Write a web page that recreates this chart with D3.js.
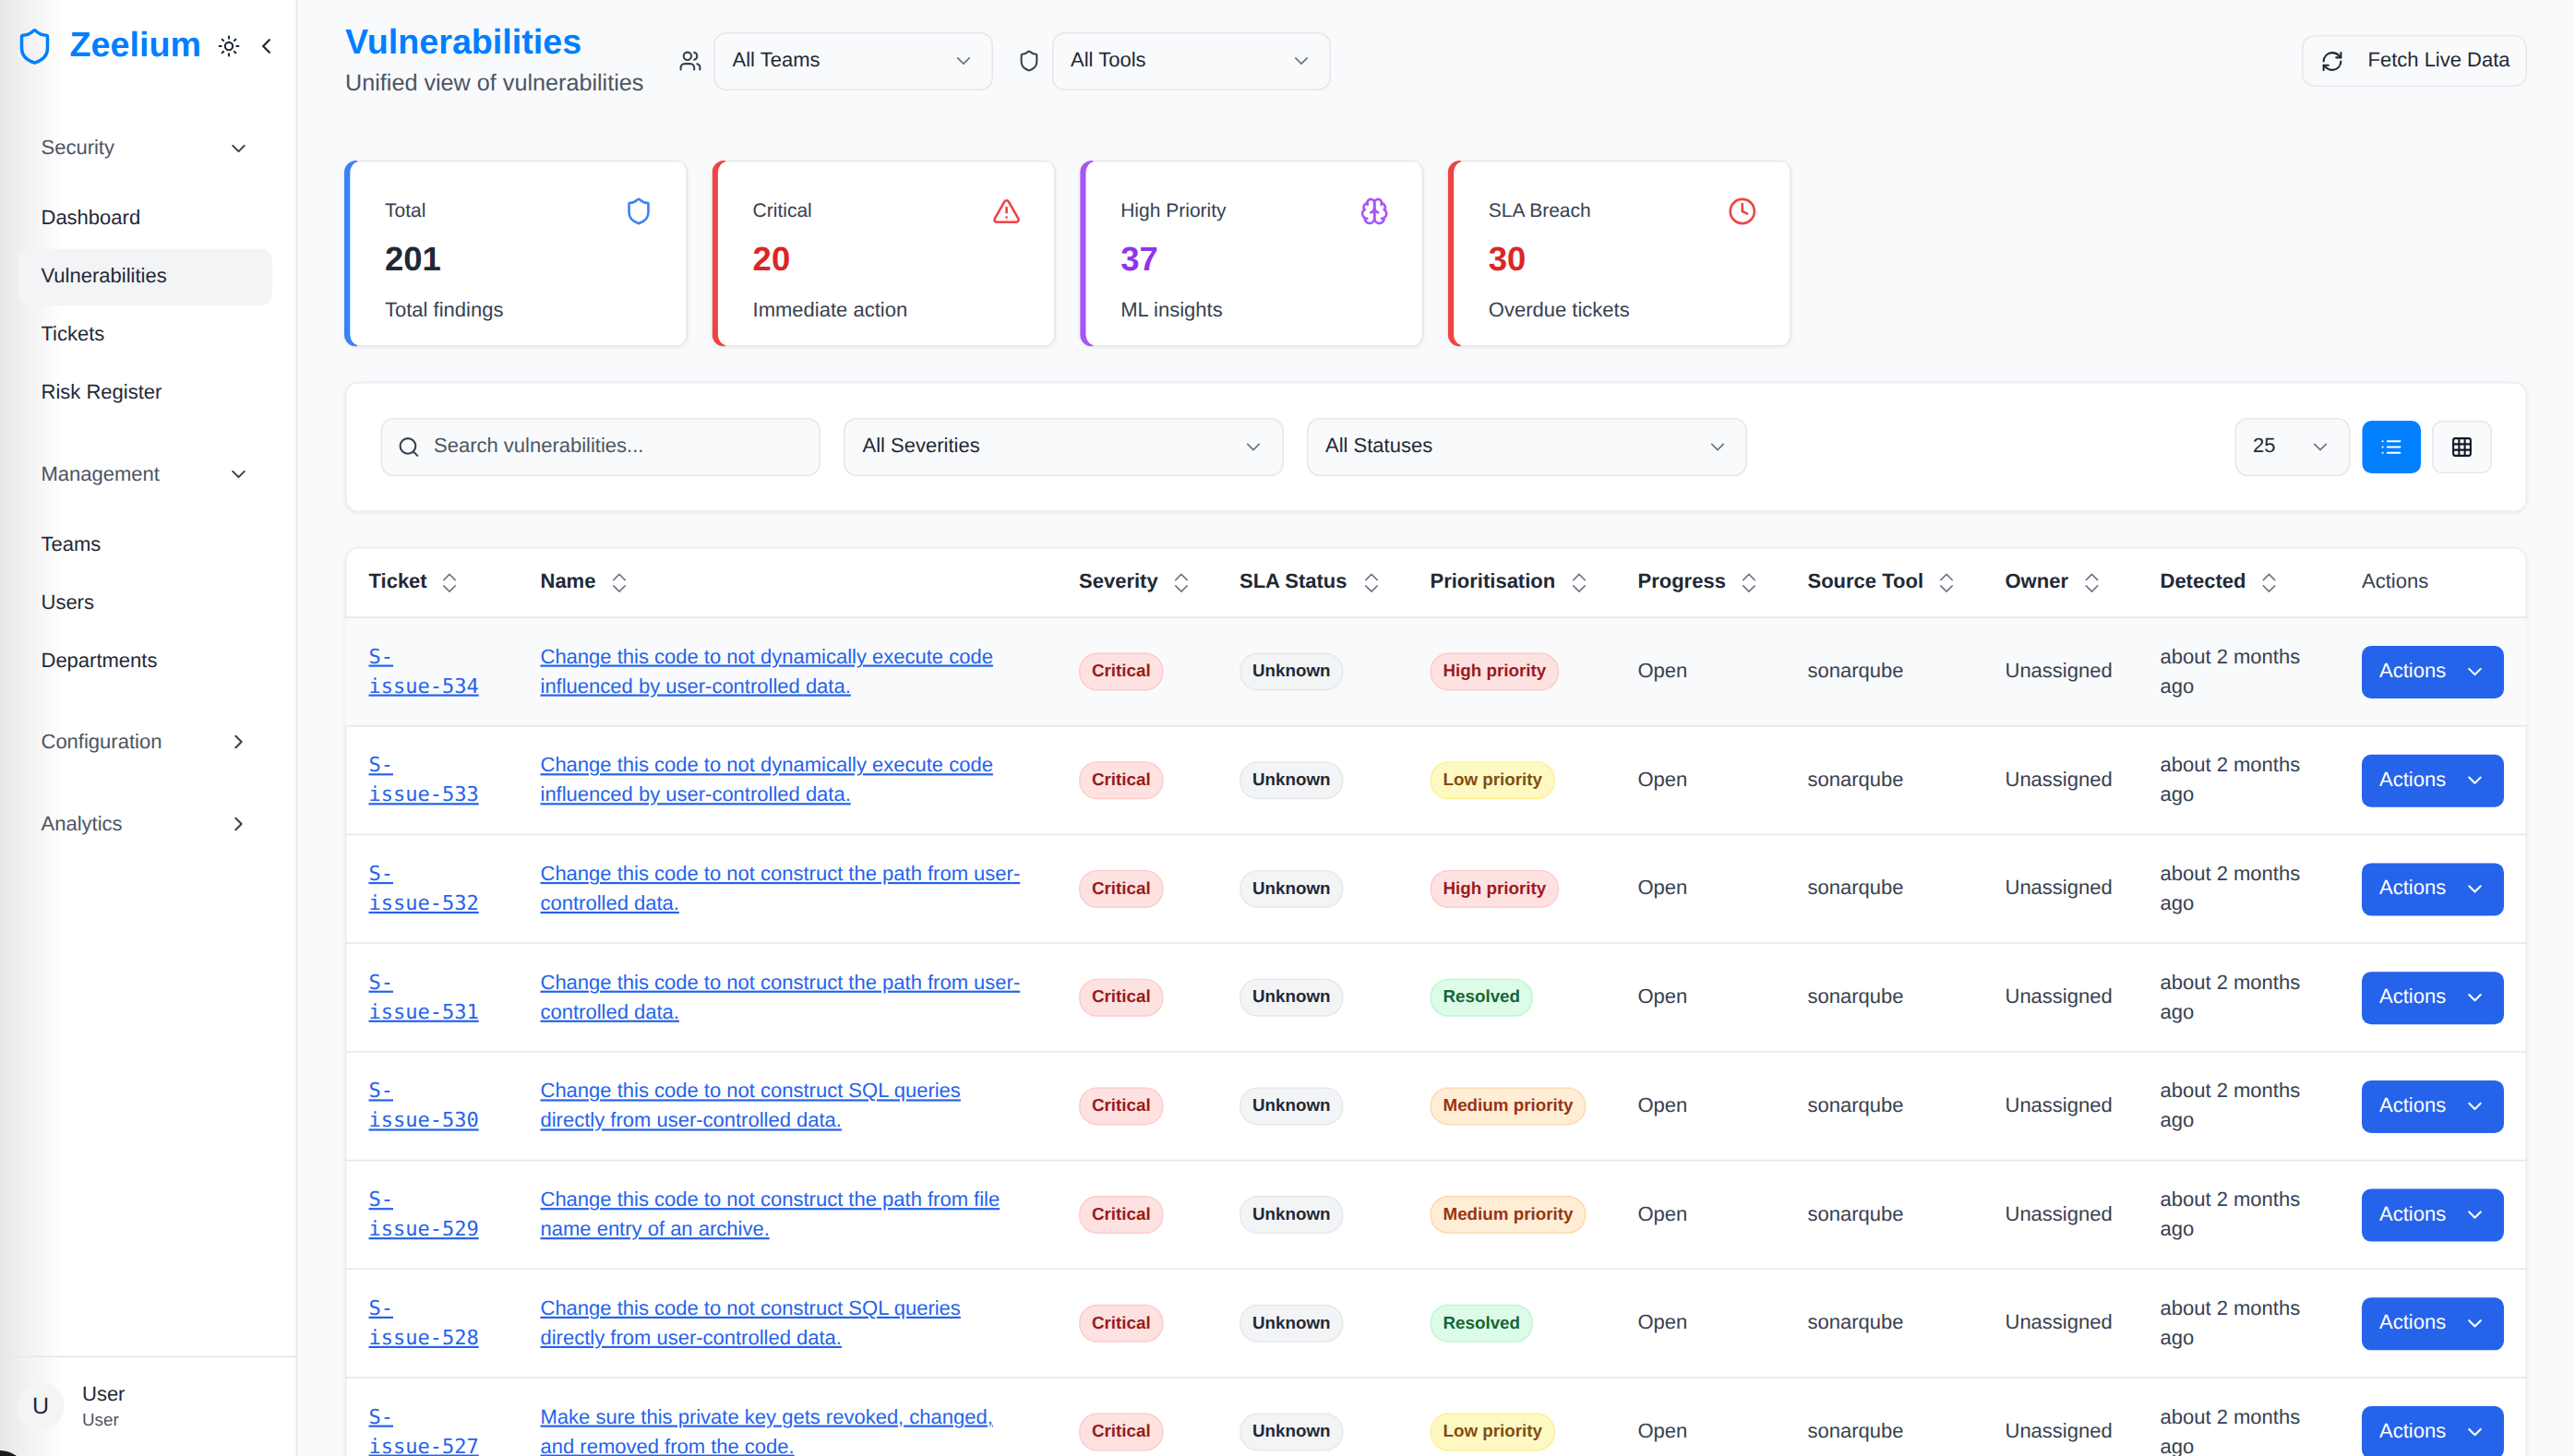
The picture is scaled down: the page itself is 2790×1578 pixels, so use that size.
<!DOCTYPE html>
<html><head><meta charset="utf-8"><title>Vulnerabilities</title>
<script src="https://cdn.jsdelivr.net/npm/d3@7"></script>
<style>
html,body{margin:0;padding:0;background:#f9fafb;overflow:hidden}
svg{display:block;font-family:"Liberation Sans",Arial,sans-serif;text-rendering:geometricPrecision}
</style></head><body><svg id="c" width="2790" height="1578"></svg>
<script>
// ---------- data ----------
const navItems = ["Security","Dashboard","Vulnerabilities","Tickets","Risk Register","Management","Teams","Users","Departments","Configuration","Analytics"];
const statLabels = ["Total","Critical","High Priority","SLA Breach"];
const statValues = ["201","20","37","30"];
const statNotes = ["Total findings","Immediate action","ML insights","Overdue tickets"];
const columns = ["Ticket","Name","Severity","SLA Status","Prioritisation","Progress","Source Tool","Owner","Detected","Actions"];
const tickets = ["S-issue-534","S-issue-533","S-issue-532","S-issue-531","S-issue-530","S-issue-529","S-issue-528","S-issue-527"];
const nameFirst = ["Change this code to not dynamically execute code","Change this code to not dynamically execute code","Change this code to not construct the path from user-","Change this code to not construct the path from user-","Change this code to not construct SQL queries","Change this code to not construct the path from file","Change this code to not construct SQL queries","Make sure this private key gets revoked, changed,"];
const nameSecond = ["influenced by user-controlled data.","influenced by user-controlled data.","controlled data.","controlled data.","directly from user-controlled data.","name entry of an archive.","directly from user-controlled data.","and removed from the code."];
const severity = ["Critical","Critical","Critical","Critical","Critical","Critical","Critical","Critical"];
const slaStatus = ["Unknown","Unknown","Unknown","Unknown","Unknown","Unknown","Unknown","Unknown"];
const prioritisation = ["High priority","Low priority","High priority","Resolved","Medium priority","Medium priority","Resolved","Low priority"];
const progress = ["Open","Open","Open","Open","Open","Open","Open","Open"];
const sourceTool = ["sonarqube","sonarqube","sonarqube","sonarqube","sonarqube","sonarqube","sonarqube","sonarqube"];
const owner = ["Unassigned","Unassigned","Unassigned","Unassigned","Unassigned","Unassigned","Unassigned","Unassigned"];
const detectedFirst = ["about 2 months","about 2 months","about 2 months","about 2 months","about 2 months","about 2 months","about 2 months","about 2 months"];
const detectedSecond = ["ago","ago","ago","ago","ago","ago","ago","ago"];

// ---------- scales ----------
const rowY = d3.scaleLinear().domain([0,8]).range([669,669+8*117.72]);
const colX = d3.scaleOrdinal().domain(columns).range([399.5,585.5,1169,1343,1549.5,1774.5,1958.5,2172.5,2340.5,2559]);
const sortX = d3.scaleOrdinal().domain(columns).range([487,671,1280,1486,1711,1895,2109,2266.5,2458.5,0]);
const statX = d3.scaleBand().domain(statLabels).range([373,1941]).paddingInner(26.4/398.4).paddingOuter(0);
const navY = d3.scaleOrdinal().domain(navItems).range([167,243,306,369,432,521,597,660,723,811,900]);

const BLUE="#007fff", LINK="#2563eb", LINE="#e5e7eb";
const circ=(x,y,r)=>`M${x-r} ${y}a${r} ${r} 0 1 0 ${2*r} 0a${r} ${r} 0 1 0 ${-2*r} 0`;
const ICONS={
 shield:["M20 13c0 5-3.5 7.5-7.66 8.95a1 1 0 0 1-.67-.01C7.5 20.5 4 18 4 13V6a1 1 0 0 1 1-1c2 0 4.5-1.2 6.24-2.72a1.17 1.17 0 0 1 1.52 0C14.51 3.81 17 5 19 5a1 1 0 0 1 1 1z"],
 users:["M16 21v-2a4 4 0 0 0-4-4H6a4 4 0 0 0-4 4v2",circ(9,7,4),"M22 21v-2a4 4 0 0 0-3-3.87","M16 3.13a4 4 0 0 1 0 7.75"],
 sun:[circ(12,12,4),"M12 2v2","M12 20v2","m4.93 4.93 1.41 1.41","m17.66 17.66 1.41 1.41","M2 12h2","M20 12h2","m6.34 17.66-1.41 1.41","m19.07 4.93-1.41 1.41"],
 alert:["m21.73 18-8-14a2 2 0 0 0-3.48 0l-8 14A2 2 0 0 0 4 21h16a2 2 0 0 0 1.73-3","M12 9v4","M12 17h.01"],
 clock:[circ(12,12,10),"M12 6v6l4 2"],
 brain:["M12 5a3 3 0 1 0-5.997.125 4 4 0 0 0-2.526 5.77 4 4 0 0 0 .556 6.588A4 4 0 1 0 12 18Z","M12 5a3 3 0 1 1 5.997.125 4 4 0 0 1 2.526 5.77 4 4 0 0 1-.556 6.588A4 4 0 1 1 12 18Z","M15 13a4.5 4.5 0 0 1-3-4 4.5 4.5 0 0 1-3 4","M17.599 6.5a3 3 0 0 0 .399-1.375","M6.003 5.125A3 3 0 0 0 6.401 6.5","M3.477 10.896a4 4 0 0 1 .585-.396","M19.938 10.5a4 4 0 0 1 .585.396","M6 18a4 4 0 0 1-1.967-.516","M19.967 17.484A4 4 0 0 1 18 18"],
 search:[circ(11,11,8),"m21 21-4.3-4.3"],
 down:["m6 9 6 6 6-6"], up:["m18 15-6-6-6 6"], left:["m15 18-6-6 6-6"], right:["m9 18 6-6-6-6"],
 refresh:["M3 12a9 9 0 0 1 9-9 9.75 9.75 0 0 1 6.74 2.74L21 8","M21 3v5h-5","M21 12a9 9 0 0 1-9 9 9.75 9.75 0 0 1-6.74-2.74L3 16","M8 16H3v5"],
 list:["M3 12h.01","M3 18h.01","M3 6h.01","M8 12h13","M8 18h13","M8 6h13"],
 grid:["M5 3h14a2 2 0 0 1 2 2v14a2 2 0 0 1-2 2H5a2 2 0 0 1-2-2V5a2 2 0 0 1 2-2z","M3 9h18","M3 15h18","M9 3v18","M15 3v18"]
};
const svg=d3.select("#c");
const defs=svg.append("defs");
const g1=defs.append("linearGradient").attr("id","edge");
g1.append("stop").attr("offset","0").attr("stop-color","#e6e6e6");
g1.append("stop").attr("offset","0.35").attr("stop-color","#f0f0f0");
g1.append("stop").attr("offset","1").attr("stop-color","#ffffff");

function icon(name,cx,cy,size,color,sw=2){
  const k=size/24;
  const g=svg.append("g").attr("transform",`translate(${cx-size/2},${cy-size/2}) scale(${k})`)
    .attr("fill","none").attr("stroke",color).attr("stroke-width",sw)
    .attr("stroke-linecap","round").attr("stroke-linejoin","round");
  g.selectAll("path").data(ICONS[name]).join("path").attr("d",d=>d);
}
function text(t,x,y,size,color,o={}){
  const s=svg.append("text").attr("x",x).attr("y",y).attr("font-size",size).attr("fill",color).text(t);
  if(o.w) s.attr("font-weight",o.w);
  if(o.a) s.attr("text-anchor",o.a);
  if(o.f) s.attr("font-family",o.f);
  if(o.u) s.attr("text-decoration","underline");
  return s;
}
function box(x,y,w,h,r,fill,stroke,shadow){
  const s=svg.append("rect").attr("x",x+.8).attr("y",y+.8).attr("width",w-1.6).attr("height",h-1.6)
    .attr("rx",r).attr("fill",fill);
  if(stroke) s.attr("stroke",stroke).attr("stroke-width",1.6);
  if(shadow) s.style("filter","drop-shadow(0 1.6px 2px rgba(0,0,0,.07))");
  return s;
}

// ---------- sidebar ----------
svg.append("rect").attr("width",322).attr("height",1578).attr("fill","#fff");
svg.append("rect").attr("width",70).attr("height",1578).attr("fill","url(#edge)");
svg.append("rect").attr("x",320.6).attr("width",1.6).attr("height",1578).attr("fill",LINE);
svg.append("path").attr("d","M0 1572Q10 1572 18 1578H0Z").attr("fill","#1a1a1a");
icon("shield",37.5,50.5,42,BLUE,2);
text("Zeelium",75.5,61,37.7,BLUE,{w:700});
icon("sun",248,50,25,"#1f2937",2);
icon("left",288.5,50,27,"#1f2937",2);
box(19,269,277,63,13,"#f3f4f6");
const groupNav=new Set(["Security","Management","Configuration","Analytics"]);
navItems.forEach(n=>{
  text(n,44.5,navY(n),22,groupNav.has(n)?"#4b5563":"#1f2937");
});
icon("down",258.5,161,25,"#374151",2);
icon("down",258.5,514,25,"#374151",2);
icon("right",258.5,804,25,"#374151",2);
icon("right",258.5,893,25,"#374151",2);
svg.append("rect").attr("y",1469.5).attr("width",321).attr("height",1.6).attr("fill",LINE);
svg.append("circle").attr("cx",44).attr("cy",1524).attr("r",25.5).attr("fill","#f3f4f6");
text("U",44,1532,25,"#1f2937",{a:"middle"});
text("User",89,1518,22,"#1f2937");
text("User",89,1545,18.8,"#4b5563");

// ---------- header ----------
text("Vulnerabilities",374,57.5,37.7,BLUE,{w:700});
text("Unified view of vulnerabilities",374,98,25.2,"#4b5563");
icon("users",748,66,25,"#374151",2);
box(773,35,303,63,13,"#f9fafb",LINE);
text("All Teams",793.5,72,22,"#1f2937");
icon("down",1044,66,25,"#6b7280",1.6);
icon("shield",1115,66,25,"#374151",2);
box(1140,35,302,63,13,"#f9fafb",LINE);
text("All Tools",1160,72,22,"#1f2937");
icon("down",1410,66,25,"#6b7280",1.6);
box(2494,38,244,56,13,"#f9fafb",LINE);
icon("refresh",2527,66.5,25,"#1f2937",2);
text("Fetch Live Data",2565.5,72,22,"#1f2937");

// ---------- stat cards ----------
const statColor=d3.scaleOrdinal().domain(statLabels).range(["#3b82f6","#ef4444","#a855f7","#ef4444"]);
const statText=d3.scaleOrdinal().domain(statLabels).range(["#1f2937","#dc2626","#9333ea","#dc2626"]);
const statIcon=d3.scaleOrdinal().domain(statLabels).range(["shield","alert","brain","clock"]);
const CT=174,CH=201.5;
statLabels.forEach((l,i)=>{
  const x=statX(l),w=statX.bandwidth();
  svg.append("rect").attr("x",x).attr("y",CT).attr("width",w).attr("height",CH).attr("rx",13)
    .attr("fill",LINE).style("filter","drop-shadow(0 1.6px 2px rgba(0,0,0,.08))");
  const cid="cl"+i;
  defs.append("clipPath").attr("id",cid).append("rect").attr("x",x).attr("y",CT).attr("width",14).attr("height",CH);
  svg.append("rect").attr("x",x).attr("y",CT).attr("width",w).attr("height",CH).attr("rx",13)
    .attr("fill",statColor(l)).attr("clip-path",`url(#${cid})`);
  svg.append("rect").attr("x",x+6.3).attr("y",CT+1.6).attr("width",w-6.3-1.6).attr("height",CH-3.2)
    .attr("rx",9).attr("ry",11.5).attr("fill","#fff");
  text(l,x+44,234.5,21,"#374151");
  text(statValues[i],x+44,293,36.5,statText(l),{w:700});
  text(statNotes[i],x+44,342.5,22,"#374151");
  icon(statIcon(l),x+319,229,31.4,statColor(l),2);
});

// ---------- filter bar ----------
box(374,414,2364,141,13,"#fff","#eceef1",true);
box(412.5,453,476.5,63,13,"#f9fafb",LINE);
icon("search",443,484.5,25,"#374151",2);
text("Search vulnerabilities...",470,490,22,"#4b5563");
box(914,453,477,63,13,"#f9fafb",LINE);
text("All Severities",934.5,490,22,"#1f2937");
icon("down",1358,484.5,25,"#6b7280",1.6);
box(1416,453,477,63,13,"#f9fafb",LINE);
text("All Statuses",1436,490,22,"#1f2937");
icon("down",1861,484.5,25,"#6b7280",1.6);
box(2421.5,453,125,63,13,"#f9fafb",LINE);
text("25",2441,490,22,"#1f2937");
icon("down",2514,484.5,25,"#6b7280",1.6);
svg.append("rect").attr("x",2559.5).attr("y",456).attr("width",63.5).attr("height",57).attr("rx",10).attr("fill","#0080ff");
icon("list",2591,484.5,25,"#fff",2);
box(2635,456,65,57,10,"#f9fafb",LINE);
icon("grid",2667.5,484.5,25,"#111827",2);

// ---------- table ----------
const tableClip=defs.append("clipPath").attr("id","tc");
tableClip.append("rect").attr("x",374).attr("y",593).attr("width",2364).attr("height",1200).attr("rx",13);
box(374,593,2364,1200,13,"#fff","#eceef1",true);
const table=svg.append("g").attr("clip-path","url(#tc)");
table.append("rect").attr("x",374).attr("y",rowY(0)).attr("width",2364).attr("height",rowY(1)-rowY(0)).attr("fill","#f9fafb");
table.selectAll("rect.sep").data(d3.range(0,9)).join("rect").attr("class","sep")
  .attr("x",374).attr("y",d=>rowY(d)-.8).attr("width",2364).attr("height",1.6).attr("fill",LINE);

columns.forEach(col=>{
  if(col==="Actions"){ text(col,colX(col),636.5,22,"#374151"); return; }
  text(col,colX(col),636.5,22,"#1f2937",{w:700});
  icon("up",sortX(col),625.5,25,"#6b7280",1.4);
  icon("down",sortX(col),638,25,"#6b7280",1.4);
});

const badgeStyle=d3.scaleOrdinal()
  .domain(["Critical","High priority","Low priority","Medium priority","Resolved","Unknown"])
  .range([["#fee2e2","#fecaca","#991b1b"],["#fee2e2","#fecaca","#991b1b"],["#fef9c3","#fef08a","#854d0e"],["#ffedd5","#fed7aa","#9a3412"],["#dcfce7","#bbf7d0","#166534"],["#f3f4f6","#e5e7eb","#1f2937"]]);
function badge(label,x,top){
  const [bg,bd,fg]=badgeStyle(label);
  const r=svg.append("rect").attr("x",x+.8).attr("y",top+39.2).attr("height",39.6).attr("rx",19)
    .attr("fill",bg).attr("stroke",bd).attr("stroke-width",1.4);
  const t=text(label,x+14,top+64.3,18.8,fg,{w:700});
  r.attr("width",t.node().getComputedTextLength()+26.4);
}
const MONO='"DejaVu Sans Mono",monospace';
tickets.forEach((tk,i)=>{
  const top=rowY(i);
  const cut=tk.indexOf("-")+1;
  text(tk.slice(0,cut),colX("Ticket"),top+49.5,22,LINK,{f:MONO,u:1});
  text(tk.slice(cut),colX("Ticket"),top+81.5,22,LINK,{f:MONO,u:1});
  text(nameFirst[i],colX("Name"),top+49.5,22,LINK,{u:1});
  text(nameSecond[i],colX("Name"),top+81.5,22,LINK,{u:1});
  badge(severity[i],colX("Severity"),top);
  badge(slaStatus[i],colX("SLA Status"),top);
  badge(prioritisation[i],colX("Prioritisation"),top);
  text(progress[i],colX("Progress"),top+65,22,"#374151");
  text(sourceTool[i],colX("Source Tool"),top+65,22,"#374151");
  text(owner[i],colX("Owner"),top+65,22,"#374151");
  text(detectedFirst[i],colX("Detected"),top+49.5,22,"#374151");
  text(detectedSecond[i],colX("Detected"),top+81.5,22,"#374151");
  svg.append("rect").attr("x",colX("Actions")).attr("y",top+31).attr("width",154).attr("height",57).attr("rx",10).attr("fill",LINK);
  text("Actions",colX("Actions")+19,top+65,22,"#fff");
  icon("down",colX("Actions")+122.5,top+59,25,"#fff",2);
});
</script></body></html>
